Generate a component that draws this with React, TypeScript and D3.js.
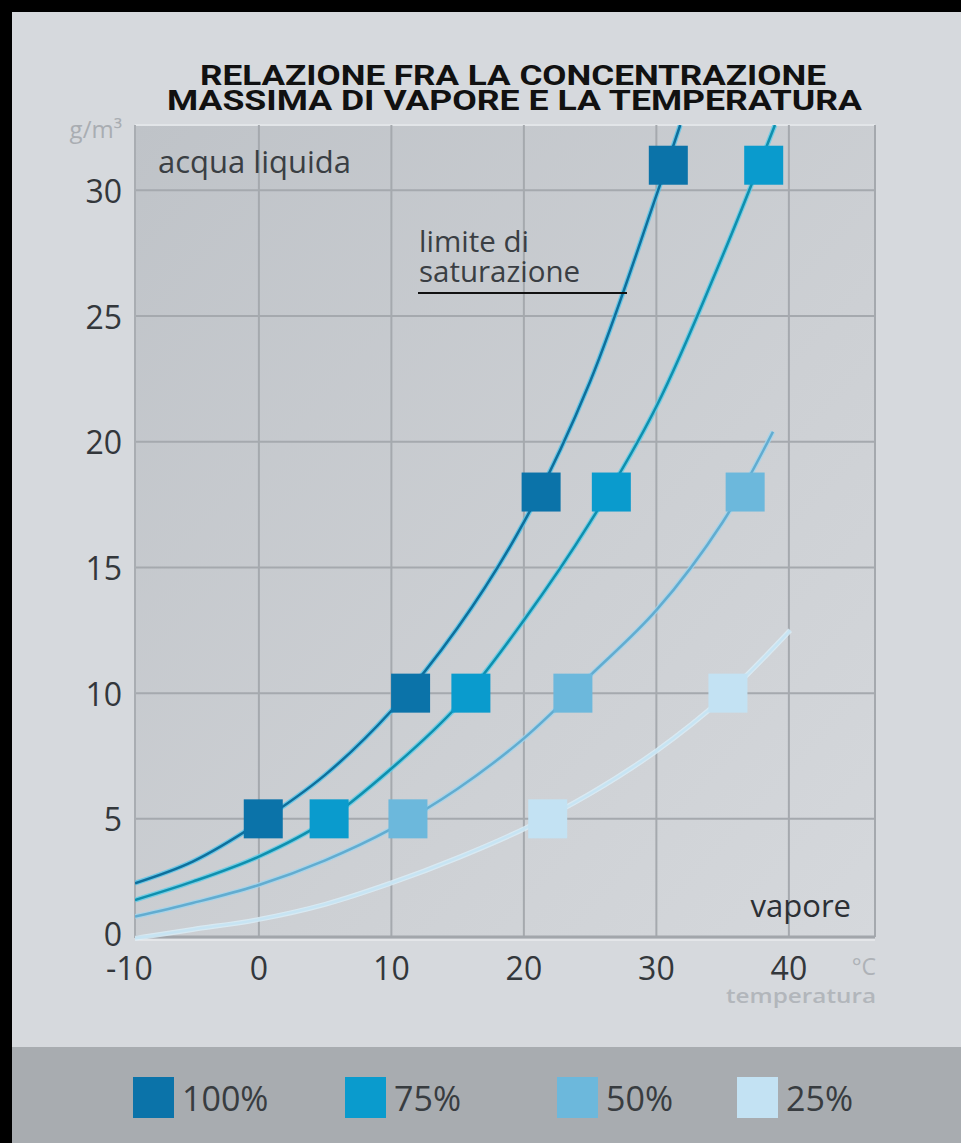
import React from "react";
import * as d3 from "d3";

const xTicks = [-10, 0, 10, 20, 30, 40];
const yTicks = [0, 5, 10, 15, 20, 25, 30];

const seriesNames = ["100%", "75%", "50%", "25%"];

const curveT100 = [-9.35, -5, 0, 5, 10, 15, 20, 25, 30, 31.8];
const curveV100 = [2.44, 3.3, 4.85, 6.75, 9.3, 12.6, 16.8, 22.4, 29.8, 32.6];
const curveT75 = [-9.35, -5, 0, 5, 10, 15, 20, 25, 30, 35, 38.95];
const curveV75 = [1.77, 2.5, 3.5, 4.9, 7.0, 9.5, 12.9, 16.8, 21.4, 27.4, 32.6];
const curveT50 = [-9.35, -5, 0, 5, 10, 15, 20, 25, 30, 35, 38.8];
const curveV50 = [1.11, 1.65, 2.37, 3.35, 4.6, 6.2, 8.2, 10.7, 13.3, 16.8, 20.4];
const curveT25 = [-9.35, -5, 0, 5, 10, 15, 20, 25, 30, 35, 40.1];
const curveV25 = [0.25, 0.6, 1.0, 1.6, 2.45, 3.45, 4.6, 6.0, 7.7, 9.8, 12.5];

const markT100 = [0.33, 11.45, 21.3, 30.9];
const markV100 = [5, 10, 18, 31];
const markT75 = [5.3, 16.0, 26.6, 38.1];
const markV75 = [5, 10, 18, 31];
const markT50 = [11.25, 23.7, 36.7];
const markV50 = [5, 10, 18];
const markT25 = [21.8, 35.4];
const markV25 = [5, 10];

const curvesT = [curveT100, curveT75, curveT50, curveT25];
const curvesV = [curveV100, curveV75, curveV50, curveV25];
const marksT = [markT100, markT75, markT50, markT25];
const marksV = [markV100, markV75, markV50, markV25];

const markerColors = ["#0b73a9", "#0a9bcd", "#6cb8dc", "#c3e2f3"];
const lineCore = ["#0e6f9c", "#0f8fae", "#62acd0", "#c7e4f3"];
const lineHalo = ["#55c6ea", "#5fcde9", "#9fd5ee", "#dbeff9"];

const W = 961;
const H = 1143;
const left = 135;
const right = 875;
const top = 125;
const bottom = 937;

const font = "'Open Sans', 'Noto Sans', sans-serif";
const titleFont = "Roboto, 'Liberation Sans', sans-serif";

export default function App() {
  const x = d3.scaleLinear().domain([-9.35, 46.5]).range([left, right]);
  const y = d3.scaleLinear().domain([0.3, 32.6]).range([bottom, top]);
  const line = d3
    .line<[number, number]>()
    .x((d) => x(d[0]))
    .y((d) => y(d[1]))
    .curve(d3.curveCatmullRom.alpha(0.5));
  const ms = 39;

  const legendX = [133, 345, 557, 737];

  return (
    <svg
      width={W}
      height={H}
      style={{ position: "absolute", left: 0, top: 0, display: "block" }}
    >
      <defs>
        <linearGradient id="plotbg" x1="0" y1="0" x2="1" y2="1">
          <stop offset="0" stopColor="#bfc3c8" />
          <stop offset="0.6" stopColor="#cdd0d4" />
          <stop offset="1" stopColor="#d5d8dc" />
        </linearGradient>
        <clipPath id="plotclip">
          <rect x={left} y={top} width={right - left} height={bottom - top + 6} />
        </clipPath>
      </defs>
      <rect x={0} y={0} width={W} height={H} fill="#000" />
      <rect x={12} y={12} width={W - 12} height={H - 12} fill="#d6d9dd" />
      <rect x={12} y={1047} width={W - 12} height={H - 1047} fill="#a8acb0" />

      <text
        x={513}
        y={85}
        textAnchor="middle"
        fontFamily={titleFont}
        fontWeight="bold"
        fontSize={28}
        fill="#111"
        textLength={626}
        lengthAdjust="spacingAndGlyphs"
      >
        RELAZIONE FRA LA CONCENTRAZIONE
      </text>
      <text
        x={514.5}
        y={110}
        textAnchor="middle"
        fontFamily={titleFont}
        fontWeight="bold"
        fontSize={28}
        fill="#111"
        textLength={695}
        lengthAdjust="spacingAndGlyphs"
      >
        MASSIMA DI VAPORE E LA TEMPERATURA
      </text>

      <rect x={left} y={top} width={right - left} height={bottom - top} fill="url(#plotbg)" />
      <line x1={left} x2={right} y1={top} y2={top} stroke="#e2e5e8" strokeWidth={2} />

      {yTicks
        .filter((t) => t > 0)
        .map((t) => (
          <line key={"gy" + t} x1={left} x2={right} y1={y(t)} y2={y(t)} stroke="#a5a9ae" strokeWidth={2} />
        ))}
      {xTicks
        .filter((t) => t >= 0)
        .map((t) => (
          <line key={"gx" + t} x1={x(t)} x2={x(t)} y1={top} y2={bottom} stroke="#a5a9ae" strokeWidth={2} />
        ))}
      <line x1={right} x2={right} y1={top} y2={bottom} stroke="#a5a9ae" strokeWidth={2} />
      <line x1={left} x2={left} y1={top} y2={bottom + 1} stroke="#a9adb2" strokeWidth={2} />
      <line x1={left} x2={right} y1={bottom} y2={bottom} stroke="#a2a6ab" strokeWidth={3} />
      <line x1={left} x2={right} y1={bottom + 3} y2={bottom + 3} stroke="#e4e6e9" strokeWidth={2} />

      <g clipPath="url(#plotclip)">
        {curvesT.map((ts, i) => {
          const pts = ts.map((t, j) => [t, curvesV[i][j]] as [number, number]);
          const d = line(pts) || "";
          return (
            <g key={"c" + i}>
              <path d={d} fill="none" stroke={lineHalo[i]} strokeWidth={5} strokeOpacity={0.8} />
              <path d={d} fill="none" stroke={lineCore[i]} strokeWidth={2.5} />
            </g>
          );
        })}
      </g>

      {marksT.map((ts, i) =>
        ts.map((t, j) => (
          <rect
            key={"m" + i + "-" + j}
            x={x(t) - ms / 2}
            y={y(marksV[i][j]) - ms / 2}
            width={ms}
            height={ms}
            fill={markerColors[i]}
          />
        ))
      )}

      {yTicks.map((t) => (
        <text
          key={"yl" + t}
          x={122}
          y={Math.min(y(t), bottom - 4)}
          textAnchor="end"
          dominantBaseline="central"
          fontFamily={font}
          fontSize={32}
          fill="#33373b"
        >
          {t}
        </text>
      ))}
      {xTicks.map((t) => (
        <text
          key={"xl" + t}
          x={x(t) + (t < 0 ? 3 : 0)}
          y={967}
          textAnchor="middle"
          dominantBaseline="central"
          fontFamily={font}
          fontSize={32}
          fill="#33373b"
        >
          {t}
        </text>
      ))}

      <text x={122} y={138} textAnchor="end" fontFamily={font} fontSize={24} fill="#a9adb2">
        g/m³
      </text>
      <text x={876} y={975} textAnchor="end" fontFamily={font} fontSize={23} fill="#aeb2b7">
        °C
      </text>
      <text
        x={876}
        y={1003}
        textAnchor="end"
        fontFamily={font}
        fontSize={20}
        fontWeight={600}
        fill="#b2b6bb"
        textLength={150}
        lengthAdjust="spacingAndGlyphs"
      >
        temperatura
      </text>

      <text x={158} y={173} fontFamily={font} fontSize={31} fill="#3a3e43">
        acqua liquida
      </text>
      <text x={851} y={917} textAnchor="end" fontFamily={font} fontSize={31} fill="#2c3035">
        vapore
      </text>
      <text x={419} y={252} fontFamily={font} fontSize={29.5} fill="#3a3e43">
        limite di
      </text>
      <text x={419} y={282} fontFamily={font} fontSize={29.5} fill="#3a3e43">
        saturazione
      </text>
      <line x1={418} x2={627} y1={293} y2={293} stroke="#111" strokeWidth={2} />

      {seriesNames.map((s, i) => (
        <g key={"lg" + i}>
          <rect x={legendX[i]} y={1077} width={41} height={41} fill={markerColors[i]} />
          <text
            x={legendX[i] + 49}
            y={1098}
            dominantBaseline="central"
            fontFamily={font}
            fontSize={34}
            fill="#383c40"
          >
            {s}
          </text>
        </g>
      ))}
    </svg>
  );
}
